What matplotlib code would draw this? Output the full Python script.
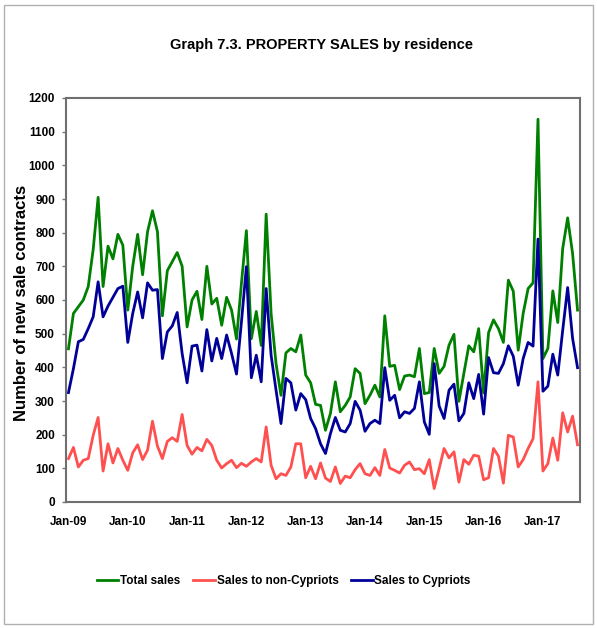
import numpy as np
import matplotlib
matplotlib.use('Agg')
from matplotlib import pyplot as plt
from matplotlib.patches import Rectangle

plt.rcParams['font.family'] = ['Liberation Sans', 'DejaVu Sans']
plt.rcParams['font.weight'] = 'bold'

# monthly values Jan-09 .. Aug-17
total = [455, 560, 580, 600, 640, 750, 905, 640, 760, 722, 795, 763,
         570, 700, 795, 675, 803, 865, 803, 553, 687, 714, 741, 700,
         520, 600, 626, 542, 700, 588, 605, 525, 608, 570, 484, 650,
         806, 485, 566, 465, 855, 560, 411, 317, 443, 456, 446, 496,
         377, 354, 290, 287, 213, 263, 357, 268, 287, 312, 396, 382,
         292, 317, 347, 312, 553, 403, 406, 334, 374, 377, 372, 456,
         322, 325, 456, 382, 403, 466, 498, 299, 382, 464, 446, 515,
         324, 503, 541, 515, 474, 659, 626, 451, 560, 634, 651, 1137,
         426, 456, 627, 533, 753, 844, 738, 570]

non_cypriots = [129, 162, 104, 124, 129, 198, 251, 92, 173, 116, 159, 124,
                94, 146, 170, 126, 154, 240, 166, 129, 180, 191, 180, 260,
                168, 142, 162, 152, 186, 168, 124, 101, 114, 124, 102, 115,
                106, 119, 129, 119, 223, 109, 69, 84, 79, 104, 173, 173,
                72, 106, 69, 116, 71, 61, 104, 55, 77, 72, 96, 114,
                84, 79, 102, 79, 156, 101, 94, 86, 109, 119, 96, 99,
                84, 126, 40, 99, 159, 131, 149, 59, 126, 112, 139, 136,
                66, 72, 159, 136, 56, 198, 193, 104, 126, 159, 188, 357,
                92, 114, 190, 124, 265, 208, 255, 170]

cypriots = [325, 396, 476, 483, 515, 550, 654, 550, 582, 608, 634, 641,
            474, 560, 624, 547, 651, 629, 631, 426, 505, 523, 563, 441,
            354, 463, 466, 389, 512, 419, 486, 426, 496, 441, 380, 535,
            699, 369, 436, 357, 634, 436, 332, 233, 367, 354, 273, 322,
            304, 248, 218, 173, 144, 203, 251, 213, 208, 233, 299, 273,
            210, 233, 243, 233, 399, 302, 317, 250, 268, 263, 278, 357,
            238, 201, 411, 285, 248, 332, 350, 241, 263, 354, 307, 379,
            261, 429, 384, 382, 411, 464, 433, 347, 426, 474, 463, 781,
            329, 344, 439, 377, 510, 637, 486, 399]

year_labels = ['Jan-09', 'Jan-10', 'Jan-11', 'Jan-12', 'Jan-13',
               'Jan-14', 'Jan-15', 'Jan-16', 'Jan-17']

W, H = 597, 628
fig = plt.figure(figsize=(W / 100, H / 100), dpi=100)
fig.patches.append(Rectangle((4 / W, 4 / H), 589 / W, 619 / H, transform=fig.transFigure,
                             fill=False, edgecolor='#b0b0b0', linewidth=1))

ax = fig.add_axes([66 / W, 1 - 502 / H, 514 / W, 404 / H])
x = np.arange(len(total))
ax.plot(x, total, color='#008000', lw=2, label='Total sales')
ax.plot(x, non_cypriots, color='#ff5050', lw=2, label='Sales to non-Cypriots')
ax.plot(x, cypriots, color='#000099', lw=2, label='Sales to Cypriots')

ax.set_xlim(-0.5, len(total) - 0.5)
ax.set_ylim(0, 1200)
ax.set_yticks(range(0, 1201, 100))
ax.set_xticks(np.arange(len(year_labels)) * 12)
ax.set_xticklabels(year_labels)
ax.tick_params(axis='x', length=0, pad=10, labelsize=8.5)
ax.tick_params(axis='y', length=3, width=1, color='#777777', pad=5, labelsize=8.5)
for s in ax.spines.values():
    s.set_color('#6f6f6f')
    s.set_linewidth(1.5)

fig.text(322 / W, 1 - 45 / H, 'Graph 7.3. PROPERTY SALES by residence',
         ha='center', va='center', fontsize=10.5)
fig.text(22 / W, 1 - 303 / H, 'Number of new sale contracts', rotation=90,
         ha='center', va='center', fontsize=12)

fig.legend(loc='center', bbox_to_anchor=(284 / W, 1 - 581 / H), ncol=3,
           frameon=False, fontsize=8.5, handlelength=1.8, handletextpad=0.15,
           columnspacing=1.1)

fig.savefig('out.png', dpi=100)
